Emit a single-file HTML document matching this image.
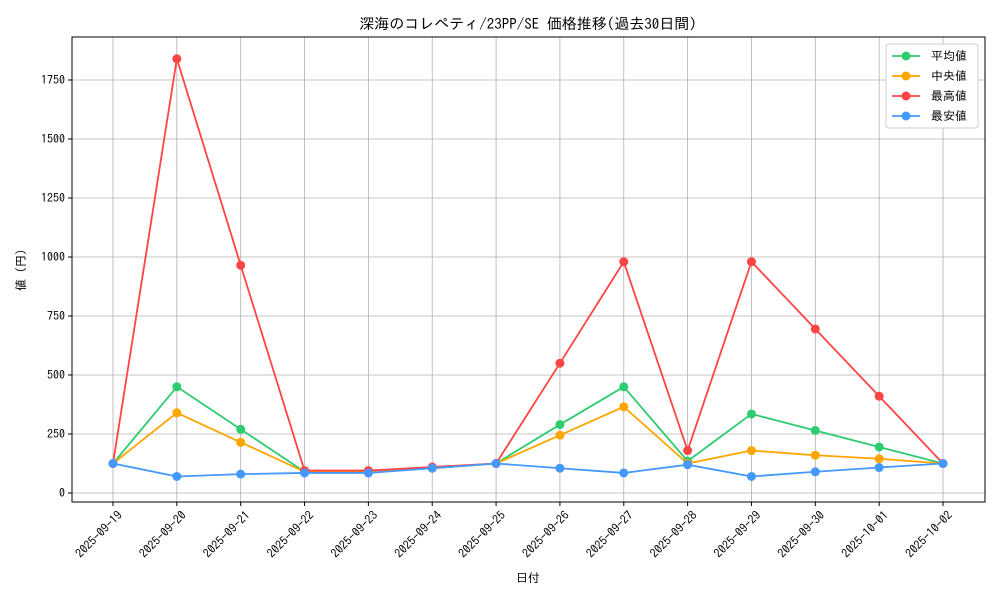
<!DOCTYPE html>
<html><head><meta charset="utf-8"><style>
body{margin:0;background:#fff;font-family:"Liberation Sans","IPAGothic","Noto Sans CJK JP",sans-serif}
svg text{font-family:"IPAGothic","Noto Sans CJK JP",sans-serif}
</style></head><body>
<svg id="chart" width="1000" height="600" xmlns="http://www.w3.org/2000/svg"></svg>
<script>
const categories=["2025-09-19","2025-09-20","2025-09-21","2025-09-22","2025-09-23","2025-09-24","2025-09-25","2025-09-26","2025-09-27","2025-09-28","2025-09-29","2025-09-30","2025-10-01","2025-10-02"];
const avgValues=[125,450,270,90,90,105,125,290,450,135,335,265,195,125];
const medianValues=[125,340,215,90,90,105,125,245,365,125,180,160,145,125];
const maxValues=[125,1840,965,95,95,110,125,550,980,180,980,695,410,125];
const minValues=[125,70,80,85,85,105,125,105,85,120,70,90,108,125];
const yTicks=[0,250,500,750,1000,1250,1500,1750];
const seriesNames=["平均値","中央値","最高値","最安値"];
const colors=["#2ecc71","#ffa500","#ff4444","#4499ff"];
const svg=document.getElementById('chart');
const NS="http://www.w3.org/2000/svg";
const L=72,R=985,T=37,B=502;
const x=i=>113+i*(943-113)/(categories.length-1);
const y=v=>493-v*(413/1750);
function mk(tag,attrs,parent){const e=document.createElementNS(NS,tag);for(const k in attrs)e.setAttribute(k,attrs[k]);(parent||svg).appendChild(e);return e;}
const grid=mk('g',{});


categories.forEach((c,i)=>{mk('line',{x1:x(i),x2:x(i),y1:T,y2:B,stroke:'#b0b0b0','stroke-width':0.8},grid);});
yTicks.forEach(v=>{mk('line',{x1:L,x2:R,y1:y(v),y2:y(v),stroke:'#b0b0b0','stroke-width':0.8},grid);});
const frame=mk('rect',{x:L,y:T,width:R-L,height:B-T,fill:'none',stroke:'#000','stroke-width':1});


categories.forEach((c,i)=>{
 mk('line',{x1:x(i),x2:x(i),y1:B,y2:B+4,stroke:'#000'});
 const ax=x(i)+10, ay=B+14;
 const t=mk('text',{x:ax,y:ay,'font-size':12,'text-anchor':'end',transform:`rotate(-45 ${ax} ${ay})`});
 
 
 t.textContent=c;
});
yTicks.forEach(v=>{
 mk('line',{x1:L-4,x2:L,y1:y(v),y2:y(v),stroke:'#000'});
 const t=mk('text',{x:L-7,y:y(v)+4,'font-size':12,'text-anchor':'end'});
 
 
 t.textContent=v;
});
const title=mk('text',{x:528,y:29,'font-size':15,'text-anchor':'middle'});


title.textContent="深海のコレペティ/23PP/SE 価格推移(過去30日間)";
const xt=mk('text',{x:528,y:582,'font-size':12,'text-anchor':'middle'});


xt.textContent="日付";
const yt=mk('text',{x:25,y:270,'font-size':12,'text-anchor':'middle',transform:'rotate(-90 25 270)'});


yt.textContent="値 (円)";
[avgValues,medianValues,maxValues,minValues].forEach((vals,s)=>{
 const g=mk('g',{});
 
 
 mk('polyline',{points:vals.map((v,i)=>x(i)+','+y(v)).join(' '),fill:'none',stroke:colors[s],'stroke-width':1.8},g);
 vals.forEach((v,i)=>{const c=mk('circle',{cx:x(i),cy:y(v),r:4.5,fill:colors[s]},g);
  
  });
});
const lg=mk('g',{});


mk('rect',{x:886,y:44,width:92,height:84,fill:'#fff',stroke:'#ccc',rx:3},lg);
seriesNames.forEach((n,s)=>{
 const yy=56+s*20;
 mk('line',{x1:892,x2:920,y1:yy,y2:yy,stroke:colors[s],'stroke-width':1.8},lg);
 mk('circle',{cx:906,cy:yy,r:4.5,fill:colors[s]},lg);
 const t=mk('text',{x:931,y:yy+4,'font-size':12},lg);
 
 
 t.textContent=n;
});
</script>
</body></html>
